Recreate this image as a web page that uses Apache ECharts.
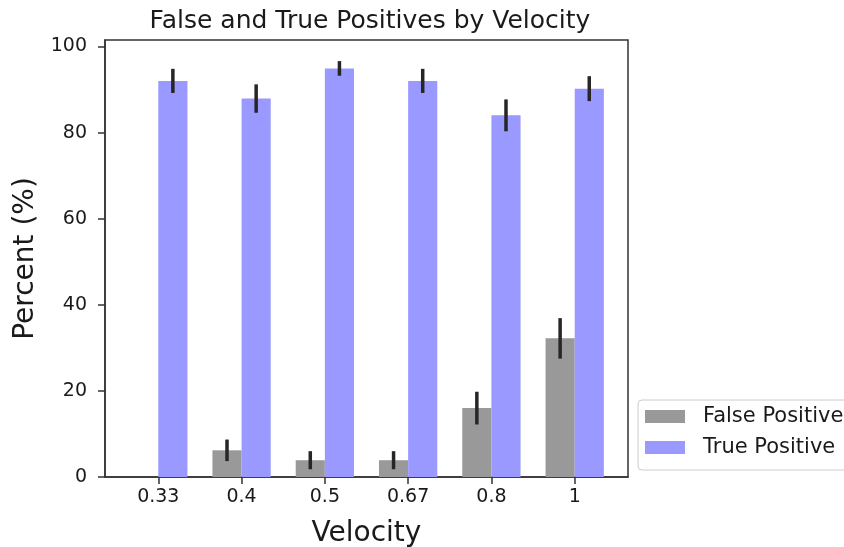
<!DOCTYPE html>
<html>
<head>
<meta charset="utf-8">
<script src="https://cdn.jsdelivr.net/npm/echarts@6/dist/echarts.min.js"></script>
<style>
  html, body { margin: 0; padding: 0; background: #fff; }
  #chart { width: 844px; height: 547px; }
</style>
</head>
<body>
<div id="chart"></div>
<script>
// Velocity categories (tick labels) and per-category results
const velocities = ['0.33', '0.4', '0.5', '0.67', '0.8', '1'];
const falsePositive = [0, 6.2, 3.9, 3.9, 16.0, 32.2];
const falsePositiveErr = [0, 2.5, 2.1, 2.1, 3.8, 4.7];
const truePositive = [92.0, 87.9, 94.9, 92.0, 84.0, 90.2];
const truePositiveErr = [2.8, 3.3, 1.7, 2.8, 3.7, 2.9];
const yTicks = [0, 20, 40, 60, 80, 100];

const BAR_W = 0.35;
const FONT = 'DejaVu Sans';
const TEXT = '#1a1a1a';
const GREY = '#999999';
const BLUE = '#9999ff';
const ERR = '#262626';

const idx = velocities.map((_, i) => i);

// Bar drawn as a rect from x offset to x offset + width, value down to 0
function barRenderer(offset) {
  return function (params, api) {
    const i = api.value(0);
    const v = api.value(1);
    const p0 = api.coord([i + offset, v]);
    const p1 = api.coord([i + offset + BAR_W, 0]);
    return {
      type: 'rect',
      shape: { x: p0[0], y: p0[1], width: p1[0] - p0[0], height: p1[1] - p0[1] },
      style: { fill: api.visual('color') }
    };
  };
}

// Vertical error line centred on a bar
function errRenderer(offset) {
  return function (params, api) {
    const i = api.value(0);
    const v = api.value(1);
    const e = api.value(2);
    if (e === 0) return null;
    const top = api.coord([i + offset + BAR_W / 2, v + e]);
    const bot = api.coord([i + offset + BAR_W / 2, v - e]);
    return {
      type: 'line',
      shape: { x1: top[0], y1: top[1], x2: bot[0], y2: bot[1] },
      style: { stroke: ERR, lineWidth: 3.5 }
    };
  };
}

const chart = echarts.init(document.getElementById('chart'), null, { renderer: 'canvas' });

chart.setOption({
  animation: false,
  backgroundColor: '#ffffff',
  title: {
    text: 'False and True Positives by Velocity',
    left: 365,
    top: 4,
    textAlign: 'center',
    textStyle: { fontFamily: FONT, fontSize: 25, fontWeight: 'normal', color: TEXT }
  },
  grid: {
    left: 105, right: 216, top: 40, bottom: 70,
    outerBoundsMode: 'none',
    show: true, borderColor: '#333', borderWidth: 1.5, backgroundColor: 'transparent'
  },
  legend: {
    orient: 'vertical',
    left: 638,
    top: 400,
    itemWidth: 40,
    itemHeight: 13,
    itemGap: 10,
    padding: [6, 8, 12, 7],
    borderColor: '#cccccc',
    borderWidth: 1,
    borderRadius: 4,
    textStyle: { fontFamily: FONT, fontSize: 21, color: TEXT, padding: [0, 0, 0, 13] },
    data: [
      { name: 'False Positive', icon: 'rect', itemStyle: { color: GREY } },
      { name: 'True Positive', icon: 'rect', itemStyle: { color: BLUE } }
    ]
  },
  xAxis: {
    type: 'value',
    min: -0.64,
    max: 5.64,
    name: 'Velocity',
    nameLocation: 'middle',
    nameGap: 43,
    nameTextStyle: { fontFamily: FONT, fontSize: 28, color: TEXT },
    splitLine: { show: false },
    axisLine: { show: true, onZero: false, lineStyle: { color: '#333', width: 1.5 } },
    axisTick: { show: true, length: 7, customValues: idx, lineStyle: { color: '#333', width: 1.5 } },
    axisLabel: {
      customValues: idx,
      margin: 11,
      fontFamily: FONT, fontSize: 19, color: TEXT,
      formatter: (v) => velocities[Math.round(v)]
    }
  },
  yAxis: {
    type: 'value',
    min: 0,
    max: 101.5,
    name: 'Percent (%)',
    nameLocation: 'middle',
    nameRotate: 90,
    nameGap: 63,
    nameTextStyle: { fontFamily: FONT, fontSize: 28, color: TEXT },
    splitLine: { show: false },
    axisLine: { show: true, onZero: false, lineStyle: { color: '#333', width: 1.5 } },
    axisTick: { show: true, length: 7, customValues: yTicks, lineStyle: { color: '#333', width: 1.5 } },
    axisLabel: {
      customValues: yTicks,
      margin: 18,
      fontFamily: FONT, fontSize: 19, color: TEXT
    }
  },
  series: [
    {
      name: 'False Positive',
      type: 'custom',
      itemStyle: { color: GREY },
      renderItem: barRenderer(-BAR_W),
      encode: { x: 0, y: 1 },
      data: idx.map(i => [i, falsePositive[i]])
    },
    {
      name: 'True Positive',
      type: 'custom',
      itemStyle: { color: BLUE },
      renderItem: barRenderer(0),
      encode: { x: 0, y: 1 },
      data: idx.map(i => [i, truePositive[i]])
    },
    {
      name: 'fpErr',
      type: 'custom',
      renderItem: errRenderer(-BAR_W),
      encode: { x: 0, y: 1 },
      z: 5,
      data: idx.map(i => [i, falsePositive[i], falsePositiveErr[i]])
    },
    {
      name: 'tpErr',
      type: 'custom',
      renderItem: errRenderer(0),
      encode: { x: 0, y: 1 },
      z: 5,
      data: idx.map(i => [i, truePositive[i], truePositiveErr[i]])
    }
  ]
});
</script>
</body>
</html>
